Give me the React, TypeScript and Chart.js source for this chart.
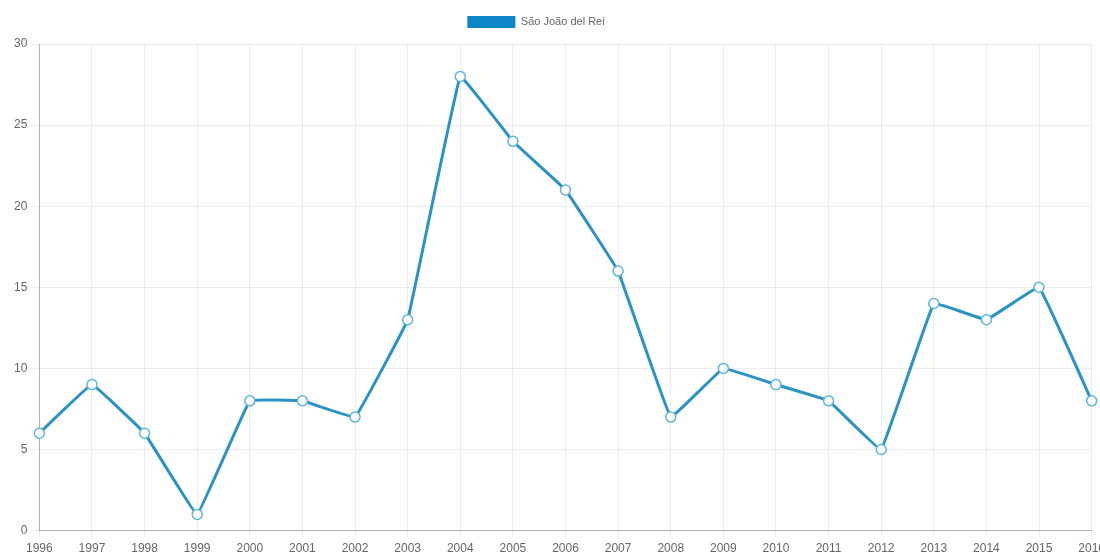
import React, { useEffect, useRef } from "react";
import { Chart, registerables } from "chart.js";

Chart.register(...registerables);

const years = [
  "1996", "1997", "1998", "1999", "2000", "2001", "2002", "2003", "2004", "2005", "2006",
  "2007", "2008", "2009", "2010", "2011", "2012", "2013", "2014", "2015", "2016",
];
const seriesLabel = "São João del Rei";
const seriesValues = [6, 9, 6, 1, 8, 8, 7, 13, 28, 24, 21, 16, 7, 10, 9, 8, 5, 14, 13, 15, 8];
const yTicks = { min: 0, max: 30, step: 5 };

const FONT = "Liberation Sans, Arial, sans-serif";

// Extra space under the legend, and a small leftward nudge of the legend row.
const legendTweaks = {
  id: "legendTweaks",
  beforeInit(chart: any) {
    const legend = chart.legend;
    if (!legend) return;
    const fit = legend.fit;
    legend.fit = function () {
      fit.call(this);
      this.height += 6;
    };
  },
  afterLayout(chart: any) {
    const legend = chart.legend;
    if (!legend) return;
    legend.left -= 24;
    legend.right -= 24;
  },
};

export default function App() {
  const canvasRef = useRef<HTMLCanvasElement | null>(null);

  useEffect(() => {
    document.body.style.margin = "0";
    const canvas = canvasRef.current;
    if (!canvas) return;
    const chart = new Chart(canvas, {
      type: "line",
      data: {
        labels: years,
        datasets: [
          {
            label: seriesLabel,
            data: seriesValues,
            borderColor: "#2b93c3",
            backgroundColor: "#0c86c7",
            borderWidth: 3,
            tension: 0.05,
            fill: false,
            pointRadius: 5,
            pointBorderWidth: 1.5,
            pointBackgroundColor: "#ffffff",
            pointBorderColor: "#5fb6dc",
          },
        ],
      },
      options: {
        animation: false,
        responsive: false,
        maintainAspectRatio: false,
        layout: { padding: { top: 4, left: 10, right: 0, bottom: 0 } },
        plugins: {
          legend: {
            position: "top",
            labels: {
              boxWidth: 48,
              boxHeight: 12,
              color: "#666",
              font: { size: 11, family: FONT },
              padding: 12,
              generateLabels: (c: any) =>
                Chart.defaults.plugins.legend.labels
                  .generateLabels(c)
                  .map((item: any) => ({ ...item, lineWidth: 0, fillStyle: "#0c86c7" })),
            },
          },
          tooltip: { enabled: false },
        },
        scales: {
          x: {
            grid: { color: "rgba(0,0,0,0.07)", tickLength: 6 },
            border: { color: "rgba(0,0,0,0.25)" },
            ticks: {
              color: "#666",
              maxRotation: 0,
              autoSkip: false,
              padding: 5,
              font: { size: 12, family: FONT },
            },
          },
          y: {
            min: yTicks.min,
            max: yTicks.max,
            grid: { color: "rgba(0,0,0,0.07)", tickLength: 8 },
            border: { color: "rgba(0,0,0,0.25)" },
            ticks: {
              stepSize: yTicks.step,
              color: "#666",
              padding: 4,
              font: { size: 12, family: FONT },
            },
          },
        },
      },
      plugins: [legendTweaks],
    });
    return () => chart.destroy();
  }, []);

  return (
    <div style={{ position: "absolute", left: 0, top: 0, width: 1100, height: 554, overflow: "hidden", background: "#fff" }}>
      <canvas ref={canvasRef} width={1110} height={561} style={{ display: "block" }} />
    </div>
  );
}
